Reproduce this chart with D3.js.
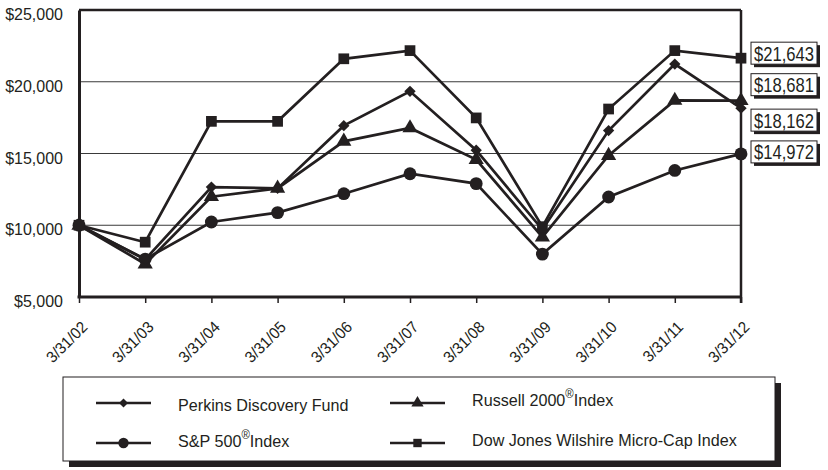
<!DOCTYPE html>
<html><head><meta charset="utf-8">
<script src="https://cdn.jsdelivr.net/npm/d3@7"></script>
<style>
html,body{margin:0;padding:0;background:#fff;}
svg{display:block;}
text{font-family:"Liberation Sans",Arial,sans-serif;fill:#231f20;}
</style></head>
<body>
<svg id="chart" width="828" height="470"></svg>
<script>
const dates = ["3/31/02","3/31/03","3/31/04","3/31/05","3/31/06","3/31/07","3/31/08","3/31/09","3/31/10","3/31/11","3/31/12"];
const perkins = [10000, 7620, 12660, 12570, 16940, 19330, 15230, 9700, 16600, 21230, 18162];
const sp500   = [10000, 7640, 10230, 10880, 12200, 13590, 12900, 7990, 11970, 13820, 14972];
const russell = [10000, 7300, 11990, 12570, 15850, 16780, 14580, 9170, 14860, 18700, 18681];
const dowjones= [10000, 8820, 17240, 17240, 21600, 22170, 17480, 9900, 18100, 22170, 21643];
const yTicks = [5000, 10000, 15000, 20000, 25000];
const endLabels = ["$21,643","$18,681","$18,162","$14,972"];

const series = [
  {name:"Perkins Discovery Fund", values:perkins, marker:"diamond"},
  {name:"S&P 500", values:sp500, marker:"circle"},
  {name:"Russell 2000", values:russell, marker:"triangle"},
  {name:"Dow Jones Wilshire Micro-Cap Index", values:dowjones, marker:"square"}
];

const svg = d3.select("#chart");
const L=79, R=741, T=10, B=297;
const x = d3.scalePoint().domain(dates).range([L,R]);
const y = d3.scaleLinear().domain([5000,25000]).range([B,T]);
const ink = "#231f20";

// gridlines
svg.append("g").selectAll("line").data(yTicks.filter(d=>d>5000 && d<25000)).join("line")
  .attr("x1",L).attr("x2",R).attr("y1",d=>y(d)).attr("y2",d=>y(d))
  .attr("stroke","#3a3a3a").attr("stroke-width",1.2);

// frame
svg.append("line").attr("x1",L).attr("x2",R).attr("y1",T).attr("y2",T).attr("stroke",ink).attr("stroke-width",2.5);
svg.append("line").attr("x1",R).attr("x2",R).attr("y1",T).attr("y2",B+6).attr("stroke",ink).attr("stroke-width",2.5);

// y axis
const yAxis = d3.axisLeft(y).tickValues(yTicks).tickSize(0).tickPadding(16).tickFormat(d=>"$"+d3.format(",")(d));
const gy = svg.append("g").attr("transform",`translate(${L},0)`).call(yAxis);
gy.select(".domain").attr("stroke",ink).attr("stroke-width",3);
gy.selectAll("text").attr("font-size",16).attr("font-family","Liberation Sans, Arial, sans-serif").attr("fill",ink).attr("dy","0.6em");

// x axis
const xAxis = d3.axisBottom(x).tickSize(6).tickSizeOuter(0).tickPadding(0);
const gx = svg.append("g").attr("transform",`translate(0,${B})`).call(xAxis);
gx.select(".domain").attr("stroke",ink).attr("stroke-width",3).attr("d",`M${L-1.5},0H${R+1}`);
gx.selectAll(".tick line").attr("stroke",ink).attr("stroke-width",1.5);
gx.selectAll("text").attr("font-size",16).attr("font-family","Liberation Sans, Arial, sans-serif").attr("fill",ink)
  .attr("text-anchor","end").attr("dy",0).attr("y",0)
  .attr("transform","translate(9,31) rotate(-45) scale(0.95,1)");

// lines
const line = d3.line().x((d,i)=>x(dates[i])).y(d=>y(d));
const sym = {diamond:d3.symbolSquare, circle:d3.symbolCircle, triangle:d3.symbolTriangle, square:d3.symbolSquare};
const rot = {diamond:45, circle:0, triangle:0, square:0};
const symSize = {diamond:64, circle:130, triangle:100, square:115};
const legSize = {diamond:40, circle:85, triangle:65, square:70};

const drawOrder = [series[1], series[2], series[0], series[3]];
drawOrder.forEach(s=>{
  svg.append("path").datum(s.values).attr("d",line).attr("fill","none").attr("stroke",ink).attr("stroke-width",2.7).attr("stroke-linejoin","miter");
});
drawOrder.forEach(s=>{
  svg.append("g").selectAll("path").data(s.values).join("path")
    .attr("transform",(d,i)=>`translate(${x(dates[i])},${y(d)}) rotate(${rot[s.marker]})`)
    .attr("d",d3.symbol().type(sym[s.marker]).size(symSize[s.marker])).attr("fill",ink);
});

// end labels
const endVals = [dowjones[10], russell[10], perkins[10], sp500[10]];
const nudge = [-4, -15, 13, -1];
const lg = svg.append("g");
endVals.forEach((v,i)=>{
  const cy = y(v)+nudge[i];
  lg.append("rect").attr("x",754).attr("y",cy-9).attr("width",66).attr("height",22).attr("fill",ink);
  lg.append("rect").attr("x",751).attr("y",cy-12).attr("width",66).attr("height",22).attr("fill","#fff").attr("stroke",ink).attr("stroke-width",1);
  lg.append("text").attr("x",754).attr("y",cy+6.5)
    .attr("font-size",20).attr("textLength",60).attr("lengthAdjust","spacingAndGlyphs").text(endLabels[i]);
});

// legend
const leg = svg.append("g");
leg.append("rect").attr("x",69).attr("y",383).attr("width",712).attr("height",84).attr("fill",ink);
leg.append("rect").attr("x",63).attr("y",377).attr("width",712).attr("height",84).attr("fill","#fff").attr("stroke",ink).attr("stroke-width",1);
const legItems = [
  {s:series[0], lx:96, ly:403, tx:178, ty:411, parts:["Perkins Discovery Fund"]},
  {s:series[2], lx:390, ly:403, tx:472, ty:406, parts:["Russell 2000","®","Index"]},
  {s:series[1], lx:96, ly:443, tx:178, ty:447, parts:["S&P 500","®","Index"]},
  {s:series[3], lx:390, ly:443, tx:472, ty:446, parts:["Dow Jones Wilshire Micro-Cap Index"]}
];
legItems.forEach(it=>{
  leg.append("line").attr("x1",it.lx).attr("x2",it.lx+55).attr("y1",it.ly).attr("y2",it.ly).attr("stroke",ink).attr("stroke-width",2.6);
  leg.append("path").attr("transform",`translate(${it.lx+27.5},${it.ly}) rotate(${rot[it.s.marker]})`)
    .attr("d",d3.symbol().type(sym[it.s.marker]).size(legSize[it.s.marker])).attr("fill",ink);
  const t = leg.append("text").attr("transform",`translate(${it.tx},${it.ty}) scale(0.95,1)`).attr("font-size",17);
  t.append("tspan").text(it.parts[0]);
  if(it.parts.length>1){
    t.append("tspan").attr("font-size",12).attr("dy",-8).text(it.parts[1]);
    t.append("tspan").attr("dy",8).text(it.parts[2]);
  }
});
</script>
</body></html>
